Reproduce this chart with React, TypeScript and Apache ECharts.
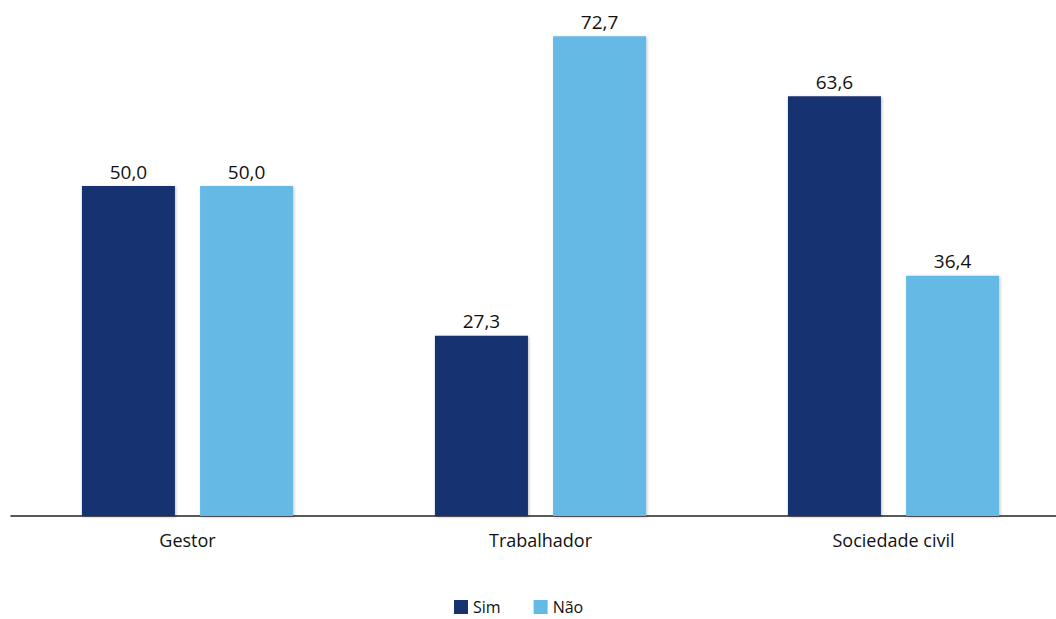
import React, { useEffect, useRef } from "react";
import * as echarts from "echarts";

const categories = ["Gestor", "Trabalhador", "Sociedade civil"];
const simValues = [50.0, 27.3, 63.6];
const naoValues = [50.0, 72.7, 36.4];
const seriesNames = ["Sim", "Não"];

const FONT = "'Open Sans', 'Noto Sans', sans-serif";

export default function App() {
  const ref = useRef<HTMLDivElement>(null);
  useEffect(() => {
    if (!ref.current) return;
    const chart = echarts.init(ref.current, undefined, { renderer: "svg" });
    const fmt = (p: any) => Number(p.value).toFixed(1).replace(".", ",");
    const label = {
      show: true,
      position: "top" as const,
      distance: 5,
      color: "#111",
      fontSize: 19,
      fontFamily: FONT,
      formatter: fmt,
    };
    chart.setOption({
      animation: false,
      backgroundColor: "#ffffff",
      grid: { left: 11, right: 0, top: 21, bottom: 103, containLabel: false },
      legend: {
        data: seriesNames,
        top: 599,
        left: 454,
        padding: 0,
        itemWidth: 14,
        itemHeight: 14,
        itemGap: 33,
        icon: "rect",
        textStyle: { fontSize: 16, lineHeight: 14, fontFamily: FONT, color: "#111" },
      },
      xAxis: {
        type: "category",
        data: categories,
        axisLine: { lineStyle: { color: "#222", width: 1.5 } },
        axisTick: { show: false },
        axisLabel: { fontSize: 18, fontFamily: FONT, color: "#111", margin: 15 },
      },
      yAxis: {
        type: "value",
        min: 0,
        max: 75,
        show: false,
        splitLine: { show: false },
      },
      series: [
        {
          name: seriesNames[0],
          type: "bar",
          data: simValues,
          barWidth: 93,
          barGap: "27%",
          itemStyle: { color: "#17336F", shadowColor: "rgba(0,0,0,0.25)", shadowBlur: 3, shadowOffsetX: 1, shadowOffsetY: 1 },
          label,
        },
        {
          name: seriesNames[1],
          type: "bar",
          data: naoValues,
          barWidth: 93,
          barGap: "27%",
          itemStyle: { color: "#65B9E5", shadowColor: "rgba(0,0,0,0.25)", shadowBlur: 3, shadowOffsetX: 1, shadowOffsetY: 1 },
          label,
        },
      ],
    });
    return () => chart.dispose();
  }, []);
  return (
    <div
      ref={ref}
      style={{ position: "fixed", left: 0, top: 0, width: 1070, height: 619 }}
    />
  );
}
